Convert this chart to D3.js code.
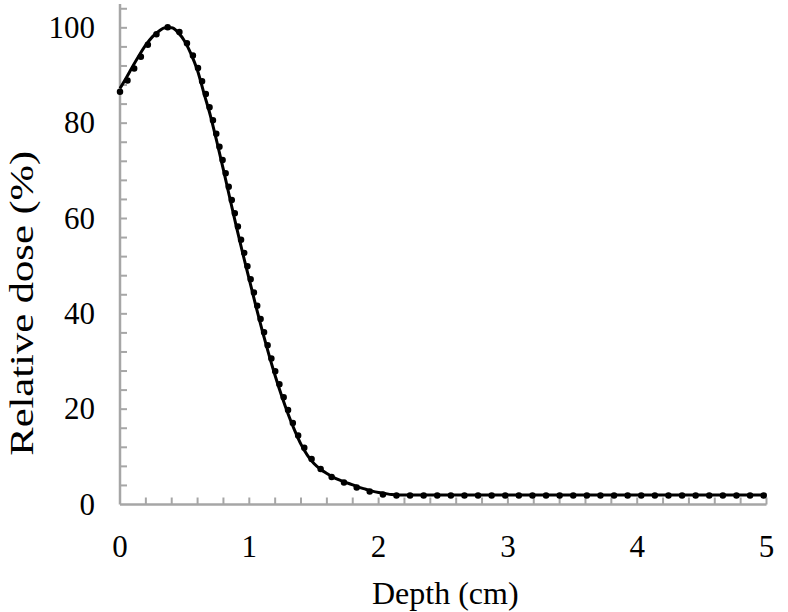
<!DOCTYPE html>
<html>
<head>
<meta charset="utf-8">
<script src="https://cdn.jsdelivr.net/npm/d3@7"></script>
<style>
  body { margin: 0; background: #fff; }
  svg text { font-family: "Liberation Serif", "Times New Roman", serif; fill: #000; }
</style>
</head>
<body>
<div id="chart"></div>
<script>
// Data
const depth = [0, 0.05, 0.1, 0.15, 0.2, 0.25, 0.3, 0.35, 0.4, 0.45, 0.5, 0.55, 0.6, 0.65, 0.7, 0.75,
    0.8, 0.85, 0.9, 0.95, 1.0, 1.05, 1.1, 1.15, 1.2, 1.25, 1.3, 1.35, 1.4, 1.45, 1.5, 1.55,
    1.6, 1.65, 1.7, 1.75, 1.8, 1.85, 1.9, 1.95, 2.0, 2.05, 2.1, 2.15, 2.2, 2.5, 3.0, 3.5, 4.0, 4.5, 5.0];

// calculated (solid line)
const calculated = [87.3, 89.6, 92.0, 94.3, 96.4, 98.1, 99.3, 100.0, 100.0, 99.0, 97.2, 94.5, 91.0, 86.2, 81.5, 76.0,
    70.2, 64.2, 58.3, 52.6, 47.2, 41.7, 36.5, 31.6, 27.0, 22.8, 19.0, 15.6, 12.6, 10.3, 8.6, 7.4,
    6.5, 5.7, 5.1, 4.6, 4.1, 3.6, 3.2, 2.8, 2.5, 2.3, 2.1, 2.0, 2.0, 2.0, 2.0, 2.0, 2.0, 2.0, 2.0];

// measured (dotted line)
const measured = [86.6, 88.6, 91.0, 93.4, 95.8, 97.7, 99.1, 100.0, 100.2, 99.4, 97.6, 95.0, 91.8, 87.4, 82.6, 77.2,
    71.5, 65.6, 59.7, 54.0, 48.4, 42.9, 37.6, 32.6, 28.0, 23.8, 19.8, 16.2, 13.2, 10.8, 8.9, 7.5,
    6.4, 5.6, 5.0, 4.4, 3.9, 3.4, 3.0, 2.6, 2.3, 2.0, 1.9, 1.9, 1.9, 1.9, 1.9, 1.9, 1.9, 1.9, 1.9];

const xTickLabels = [0, 1, 2, 3, 4, 5];
const yTickLabels = [0, 20, 40, 60, 80, 100];
const xMinorTicks = d3.range(0, 5.001, 0.2);
const yMinorTicks = d3.range(0, 104.1, 4);

// Dimensions
const W = 788, H = 612;
const margin = { top: 4, right: 21.5, bottom: 107.5, left: 120 };
const width = W - margin.left - margin.right;
const height = H - margin.top - margin.bottom;

const svg = d3.select("#chart").append("svg")
    .attr("width", W)
    .attr("height", H);

const g = svg.append("g")
    .attr("transform", `translate(${margin.left},${margin.top})`);

// Scales
const x = d3.scaleLinear().domain([0, 5]).range([0, width]);
const y = d3.scaleLinear().domain([0, 105]).range([height, 0]);

const axisColor = "#a6a6a6";

// minor ticks (inside)
g.selectAll(".xtick")
    .data(xMinorTicks.slice(1))
    .enter().append("line")
    .attr("x1", d => x(d)).attr("x2", d => x(d))
    .attr("y1", height).attr("y2", height - 7)
    .attr("stroke", axisColor)
    .attr("stroke-width", 2);

g.selectAll(".ytick")
    .data(yMinorTicks.slice(1))
    .enter().append("line")
    .attr("x1", 0).attr("x2", 7)
    .attr("y1", d => y(d)).attr("y2", d => y(d))
    .attr("stroke", axisColor)
    .attr("stroke-width", 2);

// axis lines
g.append("line")
    .attr("x1", 0).attr("x2", width)
    .attr("y1", height).attr("y2", height)
    .attr("stroke", axisColor).attr("stroke-width", 2.5);
g.append("line")
    .attr("x1", 0).attr("x2", 0)
    .attr("y1", 0).attr("y2", height)
    .attr("stroke", axisColor).attr("stroke-width", 2.5);

// tick labels
g.selectAll(".xlabel")
    .data(xTickLabels)
    .enter().append("text")
    .attr("x", d => x(d))
    .attr("y", height + 52)
    .attr("text-anchor", "middle")
    .style("font-size", "31px")
    .text(d => d);

g.selectAll(".ylabel")
    .data(yTickLabels)
    .enter().append("text")
    .attr("x", -25)
    .attr("y", d => y(d) + 10)
    .attr("text-anchor", "end")
    .style("font-size", "31px")
    .text(d => d);

// axis titles
g.append("text")
    .attr("x", width / 2 + 2)
    .attr("y", height + 99)
    .attr("text-anchor", "middle")
    .style("font-size", "32px")
    .text("Depth (cm)");

g.append("text")
    .attr("transform", `translate(${-87},${height / 2 + 49}) rotate(-90)`)
    .attr("text-anchor", "middle")
    .attr("textLength", 305)
    .attr("lengthAdjust", "spacingAndGlyphs")
    .style("font-size", "34px")
    .text("Relative dose (%)");

// lines
const line = (vals) => d3.line()
    .x((d, i) => x(depth[i]))
    .y(d => y(d))
    .curve(d3.curveMonotoneX)(vals);

g.append("path")
    .attr("d", line(calculated))
    .attr("fill", "none")
    .attr("stroke", "#000")
    .attr("stroke-width", 3);

g.append("path")
    .attr("d", line(measured))
    .attr("fill", "none")
    .attr("stroke", "#000")
    .attr("stroke-width", 6.5)
    .attr("stroke-linecap", "round")
    .attr("stroke-dasharray", "0 13.6");
</script>
</body>
</html>
